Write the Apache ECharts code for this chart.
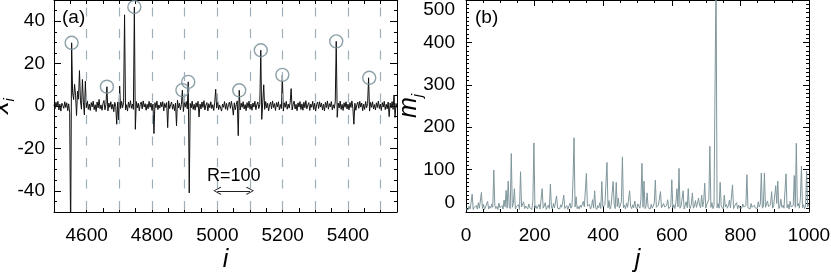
<!DOCTYPE html>
<html><head><meta charset="utf-8">
<script src="https://cdn.jsdelivr.net/npm/echarts@6/dist/echarts.min.js"></script>
<style>html,body{margin:0;padding:0;background:#fff}#c{width:831px;height:276px}</style>
</head><body><div id="c"></div>
<script>
// ---------- Panel (a): series x_i, sampled every 3rd index from i = 4500 ----------
const iStart = 4500;
const iStep = 3;
const xi = [
 0.6,-1.4,1.8,-0.5,2.2,-1.9,0.9,-2.4,1.3,0.2,
 -1.1,2.0,-0.7,1.5,-2.2,1.0,-3.2,-62,29.8,6.2,
 3.0,10.2,5.1,-4.5,7.0,3.2,16.7,2.4,-1.5,12.5,
 1.8,-4.2,11.7,-0.8,2.4,-1.6,0.9,-2.1,1.6,-0.4,
 2.3,-1.7,0.6,-2.6,1.9,-0.9,3.1,-1.3,0.5,-2.0,
 1.2,2.6,-1.8,0.7,9.1,-2.3,1.4,-0.6,2.0,-1.5,
 0.8,-2.7,1.7,-0.3,-8.6,1.9,-6.6,9.4,-1.2,2.2,
 -0.8,1.5,43.0,-1.9,0.6,-2.4,1.8,-0.7,2.5,-1.1,
 0.9,-1.6,46.7,-11.0,2.1,-0.9,1.3,-2.2,0.7,1.9,
 -1.4,2.4,-0.5,1.1,-2.0,0.8,-1.3,2.2,-0.6,1.4,
 -2.1,0.9,-13.0,1.6,-0.8,2.3,-1.7,0.5,-1.0,1.8,
 -0.4,2.0,-2.3,1.2,-0.7,1.6,-10.2,2.4,-1.2,0.6,
 1.9,-1.5,0.8,-2.2,1.4,-9.3,2.7,-0.9,1.3,-1.8,
 0.7,7.5,-2.6,1.7,-0.5,2.1,-1.3,11.4,-41.0,1.2,
 -0.9,2.3,-1.6,0.8,-2.0,1.5,-0.6,2.2,-5.2,0.9,
 -1.4,1.9,-0.7,2.5,-1.9,0.4,1.6,-2.3,1.1,-0.8,
 2.0,-1.2,0.6,-2.1,1.7,7.9,-1.0,2.3,-1.7,0.5,
 1.4,-2.4,0.9,-0.6,2.1,-1.5,1.2,-2.0,0.7,1.8,
 -1.1,2.2,-0.4,-4.3,1.5,-1.8,0.8,2.4,-14.0,7.4,
 -1.9,1.3,-0.6,2.0,-1.4,0.7,-2.2,1.6,-0.8,2.3,
 -1.5,0.9,-2.0,1.4,-0.5,2.2,-1.7,0.6,1.9,-1.2,
 0.8,26.3,-6.3,1.7,10.0,-1.6,2.1,-0.9,1.3,-2.3,
 0.5,1.8,-1.3,2.4,-0.7,1.1,-2.1,1.6,-0.4,2.0,
 -1.8,0.7,-1.2,14.7,-2.4,1.5,-0.6,2.2,-1.5,0.9,
 -1.0,1.7,8.2,-1.9,0.6,2.3,-1.4,0.8,-2.2,1.5,
 -0.5,2.1,-1.6,1.0,-2.0,1.8,-0.8,2.5,-1.3,0.4,
 1.6,-2.1,0.9,-0.6,2.2,-1.7,1.3,-2.4,0.7,1.9,
 -1.2,2.0,-0.5,1.4,-1.9,0.8,-2.3,1.7,-0.7,2.4,
 -1.5,1.1,-0.4,2.1,-1.8,0.6,-1.1,1.9,30.5,-5.3,
 1.4,-0.9,2.3,-1.6,0.8,-2.1,1.5,-0.6,2.0,-1.4,
 0.9,-1.8,1.6,-0.7,2.4,-1.2,-8.6,1.3,-2.0,0.6,
 1.8,-1.1,2.2,-0.5,1.4,-2.2,0.9,-1.6,2.1,-0.8,
 1.2,13.3,-2.4,1.7,-0.6,2.0,-1.4,0.7,-1.9,1.5,
 -0.7,2.3,-1.2,0.9,-2.1,1.6,-0.5,2.2,-1.7,0.8,
 -1.3,1.9,-5.0,1.4,-0.9,2.1,-1.6,5.2,-5.4,1.2,-0.8
];
// circled peaks
const peakI = [4554, 4662, 4746, 4893, 4911, 5067, 5133, 5199, 5364, 5465];
const peakX = [29.8, 9.1, 46.7, 7.5, 11.4, 7.4, 26.3, 14.7, 30.5, 13.3];
// dashed window boundaries
const guideI = [4600, 4700, 4800, 4900, 5000, 5100, 5200, 5300, 5400, 5500];
// R = 100 arrow
const rangeI = [5000, 5100];
const rangeY = -40;
const xTickLabels = [4600, 4800, 5000, 5200, 5400];
const yTickLabels = [-40, -20, 0, 20, 40];

// ---------- Panel (b): series m_j, sampled every 3rd index from j = 0 ----------
const jStart = 0;
const jStep = 3;
const mj = [
 8,12,5,14,7,10,42,6,11,9,
 15,7,22,9,13,46,8,18,6,12,
 10,25,7,14,9,19,11,99,16,8,
 13,6,21,10,8,15,7,28,12,51,
 9,73,14,8,138,11,20,55,7,13,
 10,17,6,95,12,9,24,8,14,11,
 7,19,10,13,6,26,163,9,15,8,
 12,18,7,10,55,9,14,22,6,11,
 16,8,66,12,7,20,10,14,38,9,
 13,7,17,11,24,40,8,12,15,6,
 10,21,9,14,75,175,12,36,8,13,
 7,16,11,9,25,12,8,91,14,10,
 18,7,13,29,9,50,11,6,15,10,
 22,8,72,12,9,17,14,117,10,27,
 7,15,11,72,19,8,70,13,33,9,
 12,24,130,10,16,7,21,11,9,50,
 13,8,17,10,26,12,7,19,14,9,
 30,115,11,73,8,15,45,10,12,7,
 18,9,14,22,75,11,8,16,13,48,
 10,7,20,12,9,15,29,8,11,14,
 76,10,17,8,22,55,12,103,9,14,
 11,50,7,16,24,10,55,13,8,19,
 45,9,14,27,11,8,33,15,10,40,
 12,25,68,9,18,14,30,155,11,22,
 8,16,13,560,10,20,9,70,14,11,
 7,40,12,18,9,15,28,10,13,64,
 8,14,11,22,7,16,10,13,9,19,
 12,8,15,88,10,14,7,20,11,9,
 16,10,13,8,24,12,18,92,9,14,
 92,11,7,26,13,10,17,48,9,15,
 12,62,20,73,8,14,30,11,16,9,
 13,90,10,18,7,25,12,9,15,86,
 11,162,14,20,9,34,108,10,17,8,
 13,97,12,18
];

const FONT = "'Liberation Sans', Arial, Helvetica, sans-serif";
const BLACK = '#000';
const chevron = 'path://M5,0 L10,9 L9,10 L5,2 L1,10 L0,9 Z';

const xiData = xi.map((v, k) => [iStart + k * iStep, v]);
const mjData = mj.map((v, k) => [jStart + k * jStep, v]);
const peakData = peakI.map((v, k) => [v, peakX[k]]);

const lineAxis = {show: true, onZero: false, lineStyle: {color: BLACK, width: 1}};
const noSplit = {show: false};
const labelStyle = {fontSize: 19, color: BLACK, fontFamily: FONT};
const nameStyle = {fontSize: 25, fontStyle: 'italic', color: BLACK, fontFamily: FONT};
const subRich = () => ({
  color: BLACK, fontFamily: FONT,
  rich: {
    a: {fontSize: 25, fontStyle: 'italic', fontFamily: FONT, color: BLACK, lineHeight: 32},
    b: {fontSize: 15, fontStyle: 'italic', fontFamily: FONT, color: BLACK, lineHeight: 14, verticalAlign: 'bottom'}
  }
});

const markItems = guideI.map(v => ({
  xAxis: v,
  lineStyle: {color: '#9eafba', width: 1.2, type: [9, 12.5], dashOffset: 19.5},
  label: {show: false}
}));
markItems.push([
  {coord: [rangeI[0], rangeY], symbol: chevron, symbolSize: [8, 8]},
  {coord: [rangeI[1], rangeY], symbol: chevron, symbolSize: [8, 8],
   lineStyle: {color: '#222', width: 1, type: 'solid'},
   label: {show: true, position: 'middle', formatter: 'R=100', fontSize: 18, color: BLACK, fontFamily: FONT, distance: 6}}
]);

const option = {
  animation: false,
  backgroundColor: '#fff',
  grid: [
    {left: 54, top: 0, width: 343, height: 212, containLabel: false, outerBoundsMode: 'none'},
    {left: 466, top: 0, width: 343, height: 212, containLabel: false, outerBoundsMode: 'none'}
  ],
  xAxis: [
    {gridIndex: 0, type: 'value', min: 4500, max: 5550, interval: 50, position: 'bottom',
     axisLine: lineAxis, splitLine: noSplit,
     axisTick: {show: true, inside: true, length: 4, lineStyle: {color: BLACK}},
     axisLabel: Object.assign({margin: 14, formatter: v => xTickLabels.includes(v) ? String(v) : ''}, labelStyle),
     name: 'i', nameLocation: 'middle', nameGap: 36, nameMoveOverlap: false, nameTextStyle: nameStyle},
    {gridIndex: 0, type: 'value', min: 4500, max: 5550, interval: 50, position: 'top',
     axisLine: lineAxis, splitLine: noSplit,
     axisTick: {show: true, inside: true, length: 4, lineStyle: {color: BLACK}},
     axisLabel: {show: false}},
    {gridIndex: 1, type: 'value', min: 0, max: 1000, interval: 200, position: 'bottom',
     axisLine: lineAxis, splitLine: noSplit,
     axisTick: {show: true, inside: true, length: 6, lineStyle: {color: BLACK}},
     minorTick: {show: true, splitNumber: 4, length: 3, lineStyle: {color: BLACK}},
     axisLabel: Object.assign({margin: 14, formatter: v => String(v)}, labelStyle),
     name: 'j', nameLocation: 'middle', nameGap: 36, nameMoveOverlap: false, nameTextStyle: nameStyle},
    {gridIndex: 1, type: 'value', min: 0, max: 1000, interval: 200, position: 'top',
     axisLine: lineAxis, splitLine: noSplit,
     axisTick: {show: true, inside: true, length: 6, lineStyle: {color: BLACK}},
     minorTick: {show: true, splitNumber: 4, length: 3, lineStyle: {color: BLACK}},
     axisLabel: {show: false}}
  ],
  yAxis: [
    {gridIndex: 0, type: 'value', min: -50, max: 50, interval: 5, position: 'left',
     axisLine: lineAxis, splitLine: noSplit,
     axisTick: {show: true, inside: true, length: 3, lineStyle: {color: BLACK}},
     axisLabel: Object.assign({margin: 9, formatter: v => yTickLabels.includes(v) ? String(v) : ''}, labelStyle),
     name: '{a|x}{b|i}', nameLocation: 'middle', nameGap: 37, nameMoveOverlap: false, nameTextStyle: subRich()},
    {gridIndex: 0, type: 'value', min: -50, max: 50, interval: 5, position: 'left',
     axisLine: {show: false}, splitLine: noSplit, axisLabel: {show: false},
     axisTick: {show: true, inside: true, length: 7, customValues: yTickLabels, lineStyle: {color: BLACK}}},
    {gridIndex: 0, type: 'value', min: -50, max: 50, interval: 5, position: 'right',
     axisLine: lineAxis, splitLine: noSplit, axisLabel: {show: false},
     axisTick: {show: true, inside: true, length: 3, lineStyle: {color: BLACK}}},
    {gridIndex: 0, type: 'value', min: -50, max: 50, interval: 5, position: 'right',
     axisLine: {show: false}, splitLine: noSplit, axisLabel: {show: false},
     axisTick: {show: true, inside: true, length: 7, customValues: yTickLabels, lineStyle: {color: BLACK}}},
    {gridIndex: 1, type: 'value', min: 0, max: 500, interval: 100, position: 'left',
     axisLine: lineAxis, splitLine: noSplit,
     axisTick: {show: true, inside: true, length: 6, lineStyle: {color: BLACK}},
     minorTick: {show: true, splitNumber: 10, length: 3, lineStyle: {color: BLACK}},
     axisLabel: Object.assign({margin: 11, verticalAlignMinLabel: 'bottom', verticalAlignMaxLabel: 'top'}, labelStyle),
     name: '{a|m}{b|j}', nameLocation: 'middle', nameGap: 41, nameMoveOverlap: false, nameTextStyle: subRich()},
    {gridIndex: 1, type: 'value', min: 0, max: 500, interval: 100, position: 'right',
     axisLine: lineAxis, splitLine: noSplit, axisLabel: {show: false},
     axisTick: {show: true, inside: true, length: 6, lineStyle: {color: BLACK}},
     minorTick: {show: true, splitNumber: 10, length: 3, lineStyle: {color: BLACK}}}
  ],
  series: [
    {type: 'line', xAxisIndex: 0, yAxisIndex: 0, data: xiData, showSymbol: false, symbol: 'none',
     lineStyle: {color: '#111', width: 1}, clip: true, z: 3,
     markLine: {silent: true, symbol: 'none', animation: false, data: markItems}},
    {type: 'scatter', xAxisIndex: 0, yAxisIndex: 0, data: peakData, symbol: 'circle', symbolSize: 13,
     itemStyle: {color: 'rgba(0,0,0,0)', borderColor: '#728a93', borderWidth: 1.4}, z: 4},
    {type: 'line', xAxisIndex: 2, yAxisIndex: 4, data: mjData, showSymbol: false, symbol: 'none',
     lineStyle: {color: '#7f969c', width: 1}, clip: true, z: 3}
  ],
  graphic: [
    {type: 'text', left: 62, top: 8, style: {text: '(a)', fontSize: 19, fontFamily: FONT, fill: BLACK}},
    {type: 'text', left: 475, top: 8, style: {text: '(b)', fontSize: 19, fontFamily: FONT, fill: BLACK}}
  ]
};
const chart = echarts.init(document.getElementById('c'), null, {renderer: 'canvas'});
chart.setOption(option);
</script></body></html>
